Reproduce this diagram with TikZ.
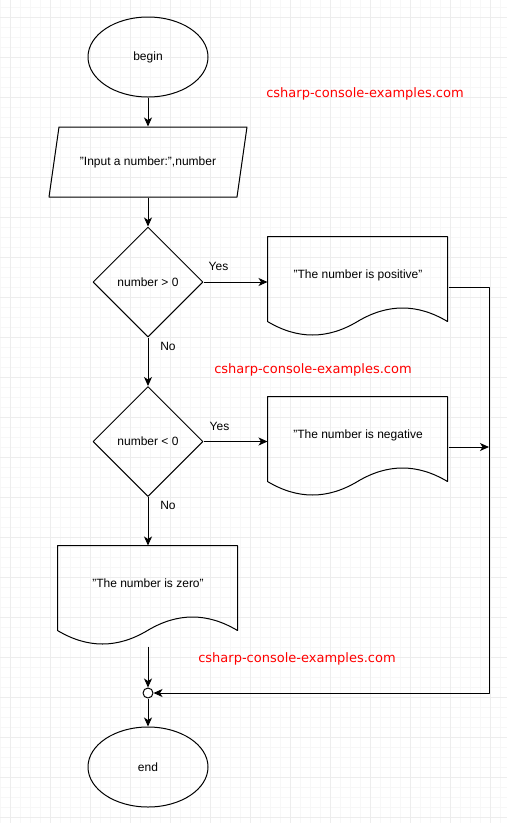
\documentclass[tikz,border=0pt]{standalone}
\usepackage{fontspec}
\setmainfont{Liberation Sans}
\newfontfamily\wmfont{DejaVu Sans}
\usetikzlibrary{shapes.geometric,arrows.meta}

\begin{document}
\begin{tikzpicture}[x=1pt, y=-1pt, line width=1pt, line join=round,
    font=\fontsize{12}{14}\selectfont,
    >={Stealth[length=9pt,width=8pt,inset=2.5pt]},
    gridminor/.style={draw=gray!6, line width=0.8pt},
    gridmajor/.style={draw=gray!14, line width=0.8pt},
    term/.style={draw, ellipse, minimum width=120, minimum height=80, inner sep=0},
    iobox/.style={minimum width=198, minimum height=70, inner sep=0},
    decision/.style={draw, diamond, minimum width=110, minimum height=110, inner sep=0},
    docbox/.style={minimum width=180, minimum height=100, inner sep=0},
    joint/.style={draw, fill=white, circle, minimum size=10, inner sep=0},
    watermark/.style={text=red, font=\wmfont\fontsize{13}{15}\selectfont}]
    \useasboundingbox (0,0) rectangle (507,823);
    \fill[white] (0,0) rectangle (507,823);
    \foreach \gx in {0,10,...,500} \draw[gridminor] (\gx,0) -- (\gx,823);
    \foreach \gy in {7,17,...,817} \draw[gridminor] (0,\gy) -- (507,\gy);
    \foreach \gx in {10,50,...,490} \draw[gridmajor] (\gx,0) -- (\gx,823);
    \foreach \gy in {17,57,...,817} \draw[gridmajor] (0,\gy) -- (507,\gy);

    \node[term] (begin) at (148,57) {begin};
    \node[iobox] (input) at (148,162) {"Input a number:",number};
    \node[decision] (d1) at (148,282) {number > 0};
    \node[decision] (d2) at (148,441.5) {number < 0};
    \node[docbox] (pos) at (358,287) {\raisebox{9pt}[0pt][0pt]{"The number is positive"}};
    \node[docbox] (neg) at (358,447) {\raisebox{9pt}[0pt][0pt]{"The number is negative}};
    \node[docbox] (zero) at (148,596) {\raisebox{9pt}[0pt][0pt]{"The number is zero"}};
    \node[joint] (merge) at (148,693) {};
    \node[term] (end) at (148,767) {end};
    \coordinate (rail) at (489,693);

    \draw[shift={(input.center)}] (-89,-35) -- (99,-35) -- (89,35) -- (-99,35) -- cycle;
    \foreach \d in {pos,neg,zero}
      \draw[shift={(\d.north west)}] (0,0) -- (180,0) -- (180,85)
        .. controls (150,67) and (120,67) .. (90,85)
        .. controls (60,103) and (30,103) .. (0,85) -- cycle;

    \node[watermark] (wm1) at (365,94) {csharp-console-examples.com};
    \node[watermark] (wm2) at (313,370) {csharp-console-examples.com};
    \node[watermark] (wm3) at (297,659) {csharp-console-examples.com};

    \draw[->] (begin) -- (input);
    \draw[->] (input) -- (d1);
    \draw[->] (d1.east) -- (d1.east -| pos.west) node[at start, xshift=15pt, yshift=16pt] {Yes};
    \draw[->] (d1) -- (d2) node[at start, xshift=20pt, yshift=-9pt] {No};
    \draw[->] (d2.east) -- (d2.east -| neg.west) node[at start, xshift=16pt, yshift=15.5pt] {Yes};
    \draw[->] (d2) -- (zero) node[at start, xshift=20pt, yshift=-8.5pt] {No};
    \draw[->] (zero) -- (merge);
    \draw[->] (merge) -- (end);
    \draw[->] (pos.east) -| (rail) -- (merge);
    \draw[->] (neg.east) -- (neg.east -| rail);
\end{tikzpicture}
\end{document}
